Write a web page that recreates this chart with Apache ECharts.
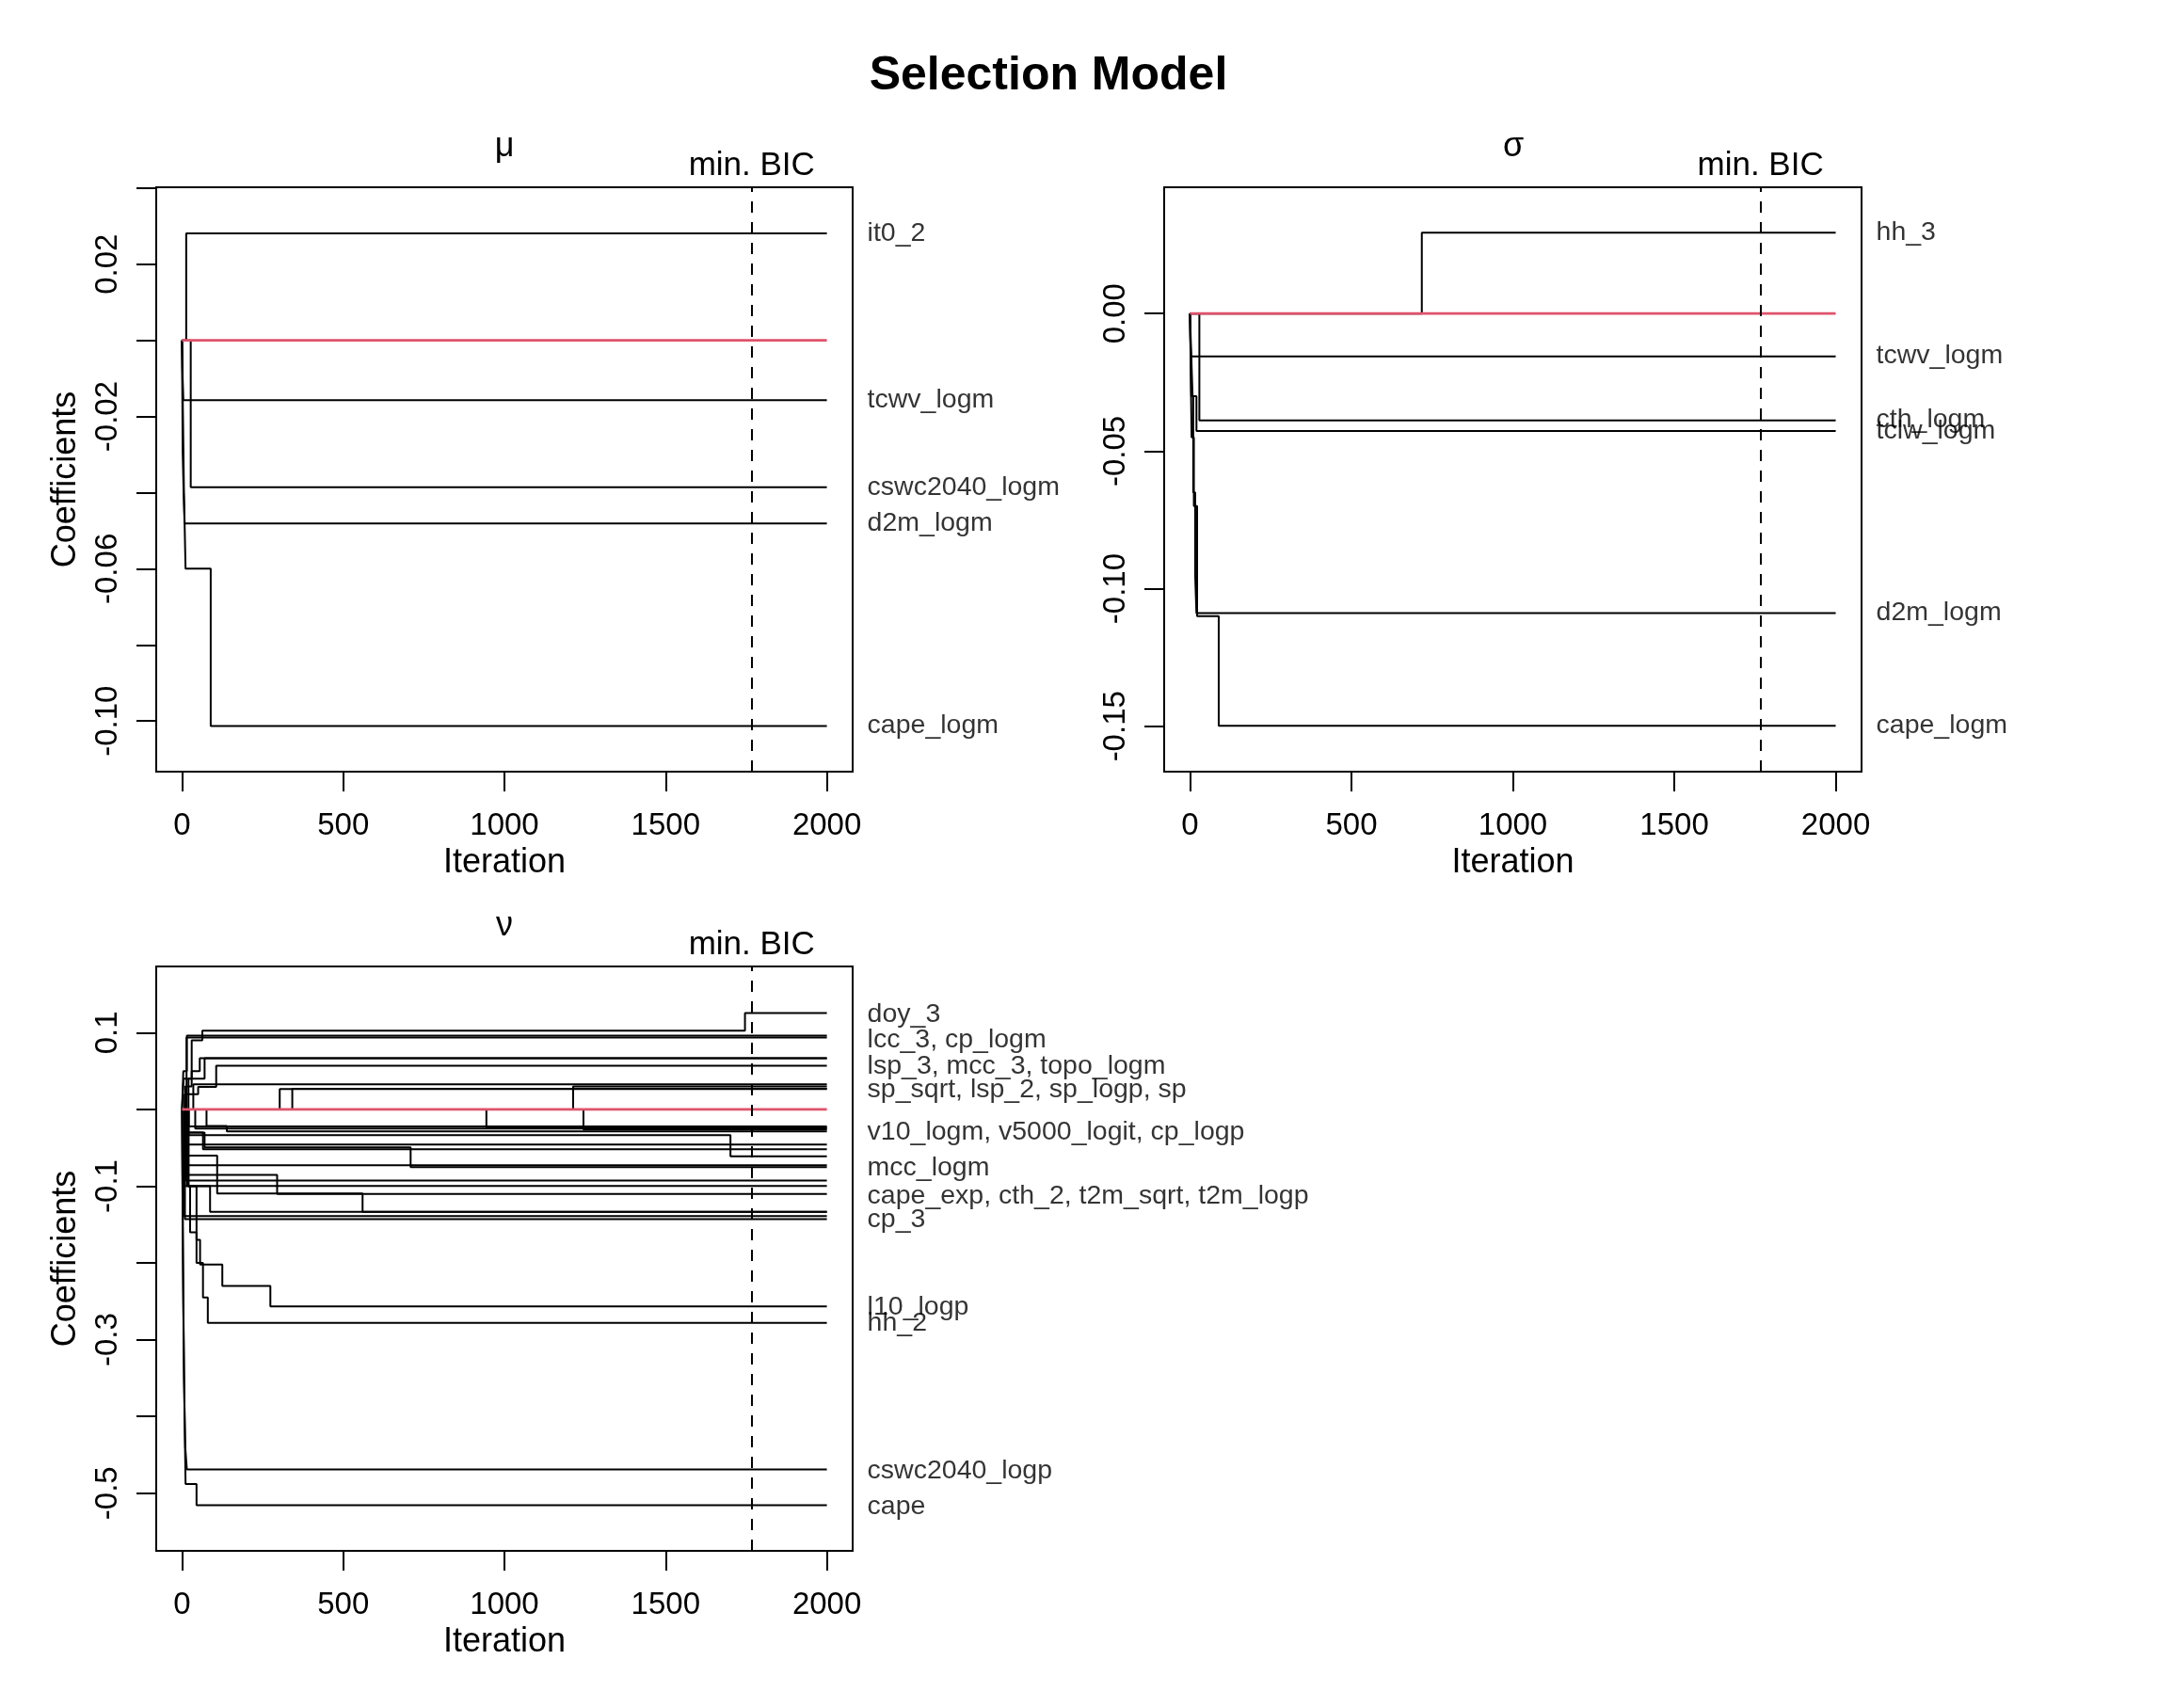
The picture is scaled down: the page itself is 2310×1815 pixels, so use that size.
<!DOCTYPE html>
<html>
<head>
<meta charset="utf-8">
<title>Selection Model</title>
<script src="https://cdn.jsdelivr.net/npm/echarts@6/dist/echarts.min.js"></script>
<style>
html,body{margin:0;padding:0;background:#fff;}
#chart{width:2310px;height:1815px;}
</style>
</head>
<body>
<div id="chart"></div>
<script>
// iteration of the minimal BIC (dashed line) and x axis ticks
var minBic = 1767;
var iterTicks = [0, 500, 1000, 1500, 2000];

// mu: coefficient paths as [iteration, new value] change points
var muPaths = [
    [[0,0],[13,0.0281]],
    [[0,0],[2,-0.010],[4,-0.0157]],
    [[0,0],[27,-0.0386]],
    [[0,0],[1,-0.015],[2,-0.029],[5,-0.040],[8,-0.0481]],
    [[0,0],[3,-0.02],[6,-0.04],[11,-0.06],[89,-0.1013]]
];
var muLabels = ['it0_2', 'tcwv_logm', 'cswc2040_logm', 'd2m_logm', 'cape_logm'];
var muLabelAt = [0.0281, -0.0157, -0.0386, -0.0481, -0.1013];
var muTicks = [0.04, 0.02, 0, -0.02, -0.04, -0.06, -0.08, -0.10];
var muTickLabels = [0.02, -0.02, -0.06, -0.10];

// sigma
var sigmaPaths = [
    [[0,0],[718,0.0294]],
    [[0,0],[1,-0.008],[3,-0.0156]],
    [[0,0],[29,-0.0388]],
    [[0,0],[3,-0.012],[8,-0.03],[20,-0.0427]],
    [[0,0],[4,-0.03],[10,-0.065],[16,-0.095],[20,-0.1089]],
    [[0,0],[5,-0.045],[12,-0.07],[22,-0.110],[89,-0.1498]]
];
var sigmaLabels = ['hh_3', 'tcwv_logm', 'cth_logm', 'tclw_logm', 'd2m_logm', 'cape_logm'];
var sigmaLabelAt = [0.0294, -0.0153, -0.0388, -0.0427, -0.1089, -0.1498];
var sigmaTicks = [0, -0.05, -0.10, -0.15];

// nu
var nuPaths = [
    [[0,0],[5,0.04],[30,0.09],[63,0.1027],[1746,0.1256]],
    [[0,0],[4,0.05],[15,0.0962]],
    [[0,0],[14,0.0938]],
    [[0,0],[10,0.03],[30,0.05],[55,0.0668]],
    [[0,0],[8,0.02],[50,0.0294],[106,0.057]],
    [[0,0],[20,0.04],[70,0.0668]],
    [[0,0],[35,0.0326]],
    [[0,0],[303,0.0266]],
    [[0,0],[342,0.0269]],
    [[0,0],[1213,0.0301]],
    [[0,0],[21,-0.022]],
    [[0,0],[41,-0.025]],
    [[0,0],[76,-0.0216],[139,-0.0286]],
    [[0,0],[944,-0.0236]],
    [[0,0],[1245,-0.0262]],
    [[0,0],[7,-0.02],[20,-0.0335],[1701,-0.0612]],
    [[0,0],[8,-0.0458]],
    [[0,0],[10,-0.03],[70,-0.0494],[709,-0.0751]],
    [[0,0],[15,-0.03],[65,-0.0519]],
    [[0,0],[8,-0.05],[18,-0.0727]],
    [[0,0],[10,-0.06],[18,-0.0854],[295,-0.110]],
    [[0,0],[12,-0.0927]],
    [[0,0],[6,-0.0996]],
    [[0,0],[10,-0.06],[109,-0.1095],[560,-0.1334]],
    [[0,0],[20,-0.1],[87,-0.1334]],
    [[0,0],[6,-0.1388]],
    [[0,0],[9,-0.1428]],
    [[0,0],[20,-0.1],[45,-0.17],[56,-0.2022],[125,-0.230],[274,-0.2565]],
    [[0,0],[15,-0.1],[25,-0.16],[45,-0.2],[65,-0.245],[80,-0.278]],
    [[0,0],[3,-0.2],[6,-0.35],[10,-0.44],[15,-0.469]],
    [[0,0],[4,-0.25],[8,-0.4],[11,-0.488],[45,-0.5156]]
];
var nuLabels = ['doy_3', 'lcc_3, cp_logm', 'lsp_3, mcc_3, topo_logm', 'sp_sqrt, lsp_2, sp_logp, sp',
    'v10_logm, v5000_logit, cp_logp', 'mcc_logm', 'cape_exp, cth_2, t2m_sqrt, t2m_logp', 'cp_3',
    'l10_logp', 'hh_2', 'cswc2040_logp', 'cape'];
var nuLabelAt = [0.1234, 0.0907, 0.0564, 0.0257, -0.0294, -0.0768, -0.1136, -0.1442,
    -0.258, -0.278, -0.471, -0.518];
var nuTicks = [0.1, 0, -0.1, -0.2, -0.3, -0.4, -0.5];
var nuTickLabels = [0.1, -0.1, -0.3, -0.5];

var font = "'Liberation Sans', Arial, sans-serif";
var dom = document.getElementById('chart');
var myChart = echarts.init(dom);

//坐标轴
function xAx(gi) {
    return {
        type: 'value', gridIndex: gi, min: -80, max: 2080,
        axisLine: {show: false, onZero: false}, splitLine: {show: false},
        axisTick: {show: true, customValues: iterTicks, length: 21, inside: false, lineStyle: {color: '#000', width: 2}},
        axisLabel: {customValues: iterTicks, margin: 41, fontSize: 33, color: '#000', fontFamily: font,
            formatter: function (v) { return String(v); }},
        name: 'Iteration', nameLocation: 'middle', nameGap: 79,
        nameTextStyle: {fontSize: 36, color: '#000', fontFamily: font}
    };
}
function yAx(gi, min, max, ticks, labels, dec, name) {
    return {
        type: 'value', gridIndex: gi, min: min, max: max,
        axisLine: {show: false, onZero: false}, splitLine: {show: false},
        axisTick: {show: true, customValues: ticks, length: 21, inside: false, lineStyle: {color: '#000', width: 2}},
        axisLabel: {customValues: labels, rotate: 90, margin: 35, fontSize: 33, color: '#000', fontFamily: font,
            formatter: function (v) { return v.toFixed(dec); }},
        name: name, nameLocation: 'middle', nameGap: 78,
        nameTextStyle: {fontSize: 36, color: '#000', fontFamily: font}
    };
}

function pathSeries(paths, gi) {
    return paths.map(function (p) {
        return {
            type: 'line', xAxisIndex: gi, yAxisIndex: gi, step: 'end',
            data: p.concat([[2000, p[p.length - 1][1]]]),
            symbol: 'none', silent: true, z: 2,
            lineStyle: {color: '#000', width: 2}
        };
    });
}
function zeroSeries(gi) {
    return {
        type: 'line', xAxisIndex: gi, yAxisIndex: gi, data: [[0, 0], [2000, 0]],
        symbol: 'none', silent: true, z: 3,
        lineStyle: {color: '#DF536B', width: 2.8},
        markLine: {
            symbol: 'none', silent: true,
            lineStyle: {color: '#000', width: 2, type: [12, 10]},
            label: {show: true, position: 'end', distance: 5, formatter: 'min. BIC',
                fontSize: 35, color: '#000', fontFamily: font},
            data: [{xAxis: minBic}]
        }
    };
}
function labelSeries(labels, at, gi) {
    return {
        type: 'scatter', xAxisIndex: gi, yAxisIndex: gi, symbolSize: 0, clip: false, silent: true,
        data: labels.map(function (t, i) { return {name: t, value: [2000, at[i]]}; }),
        label: {show: true, position: 'right', distance: 43, formatter: '{b}',
            fontSize: 28.5, color: '#000', fontFamily: font}
    };
}

var gridBase = {show: true, borderColor: '#000', borderWidth: 2, backgroundColor: 'transparent',
    containLabel: false, outerBoundsMode: 'none'};

var option = {
    animation: false,
    backgroundColor: '#fff',
    title: [
        {text: 'Selection Model', left: 1114, top: 81, textAlign: 'center', textVerticalAlign: 'middle', padding: 0,
            textStyle: {fontSize: 50, fontWeight: 'bold', color: '#000', fontFamily: font}},
        {text: 'μ', left: 536, top: 156, textAlign: 'center', textVerticalAlign: 'middle', padding: 0,
            textStyle: {fontSize: 36, fontWeight: 'normal', color: '#000', fontFamily: font}},
        {text: 'σ', left: 1608, top: 156, textAlign: 'center', textVerticalAlign: 'middle', padding: 0,
            textStyle: {fontSize: 36, fontWeight: 'normal', color: '#000', fontFamily: font}},
        {text: 'ν', left: 536, top: 984, textAlign: 'center', textVerticalAlign: 'middle', padding: 0,
            textStyle: {fontSize: 36, fontWeight: 'normal', color: '#000', fontFamily: font}}
    ],
    grid: [
        Object.assign({left: 166, top: 199, width: 740, height: 621}, gridBase),
        Object.assign({left: 1237, top: 199, width: 741, height: 621}, gridBase),
        Object.assign({left: 166, top: 1027, width: 740, height: 621}, gridBase)
    ],
    xAxis: [xAx(0), xAx(1), xAx(2)],
    yAxis: [
        yAx(0, -0.1133, 0.0402, muTicks, muTickLabels, 2, 'Coefficients'),
        yAx(1, -0.1665, 0.0459, sigmaTicks, sigmaTicks, 2, ''),
        yAx(2, -0.5751, 0.1863, nuTicks, nuTickLabels, 1, 'Coefficients')
    ],
    series: [].concat(
        pathSeries(muPaths, 0), [zeroSeries(0), labelSeries(muLabels, muLabelAt, 0)],
        pathSeries(sigmaPaths, 1), [zeroSeries(1), labelSeries(sigmaLabels, sigmaLabelAt, 1)],
        pathSeries(nuPaths, 2), [zeroSeries(2), labelSeries(nuLabels, nuLabelAt, 2)]
    )
};

if (option && typeof option === 'object') {
    myChart.setOption(option);
}
</script>
</body>
</html>
